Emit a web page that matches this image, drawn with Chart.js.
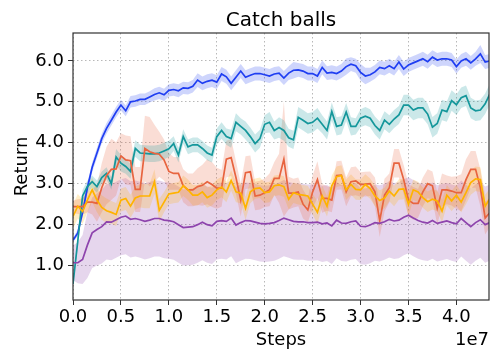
<!DOCTYPE html>
<html>
<head>
<meta charset="utf-8">
<script src="https://cdn.jsdelivr.net/npm/chart.js@4"></script>
<style>
  html, body { margin: 0; padding: 0; background: #fff; }
  #wrap { width: 500px; height: 362px; }
</style>
</head>
<body>
<div id="wrap"><canvas id="chart" width="500" height="362"></canvas></div>
<script>
// ----- DATA -----
const chartTitle = "Catch balls";
const xLabel = "Steps";
const yLabel = "Return";
const xOffsetText = "1e7";

// steps, in units of 1e7
const steps = [
  0.00, 0.05, 0.10, 0.15, 0.20, 0.25, 0.30, 0.35, 0.40, 0.45,
  0.50, 0.55, 0.60, 0.65, 0.70, 0.75, 0.80, 0.85, 0.90, 0.95,
  1.00, 1.05, 1.10, 1.15, 1.20, 1.25, 1.30, 1.35, 1.40, 1.45,
  1.50, 1.55, 1.60, 1.65, 1.70, 1.75, 1.80, 1.85, 1.90, 1.95,
  2.00, 2.05, 2.10, 2.15, 2.20, 2.25, 2.30, 2.35, 2.40, 2.45,
  2.50, 2.55, 2.60, 2.65, 2.70, 2.75, 2.80, 2.85, 2.90, 2.95,
  3.00, 3.05, 3.10, 3.15, 3.20, 3.25, 3.30, 3.35, 3.40, 3.45,
  3.50, 3.55, 3.60, 3.65, 3.70, 3.75, 3.80, 3.85, 3.90, 3.95,
  4.00, 4.05, 4.10, 4.15, 4.20, 4.25, 4.30, 4.35
];

const xTicks = [0.0, 0.5, 1.0, 1.5, 2.0, 2.5, 3.0, 3.5, 4.0];
const yTicks = [1.0, 2.0, 3.0, 4.0, 5.0, 6.0];

// mean return per run
const blueMean = [
  1.62, 1.80, 2.30, 2.90, 3.40, 3.75, 4.10, 4.35, 4.55, 4.75,
  4.92, 4.78, 5.00, 5.02, 5.06, 5.06, 5.12, 5.18, 5.22, 5.17,
  5.28, 5.30, 5.27, 5.34, 5.33, 5.38, 5.53, 5.45, 5.50, 5.53,
  5.48, 5.68, 5.61, 5.45, 5.60, 5.75, 5.60, 5.65, 5.69, 5.69,
  5.66, 5.63, 5.68, 5.70, 5.58, 5.70, 5.77, 5.78, 5.75, 5.69,
  5.69, 5.63, 5.84, 5.70, 5.72, 5.69, 5.75, 5.86, 5.92, 5.88,
  5.72, 5.63, 5.66, 5.73, 5.84, 5.81, 5.88, 5.81, 5.97, 5.80,
  5.90, 5.95, 6.00, 6.05, 5.98, 6.09, 6.02, 6.05, 6.05, 6.02,
  5.86, 6.00, 6.05, 5.95, 6.05, 6.17, 5.97, 6.00
];
const blueStd = [
  0.05, 0.08, 0.10, 0.12, 0.12, 0.12, 0.12, 0.13, 0.13, 0.13,
  0.13, 0.13, 0.14, 0.14, 0.14, 0.14, 0.14, 0.15, 0.15, 0.15,
  0.15, 0.15, 0.16, 0.15, 0.15, 0.15, 0.17, 0.17, 0.17, 0.17,
  0.17, 0.17, 0.17, 0.17, 0.17, 0.17, 0.17, 0.17, 0.17, 0.17,
  0.17, 0.17, 0.17, 0.17, 0.17, 0.17, 0.20, 0.17, 0.17, 0.17,
  0.17, 0.17, 0.17, 0.17, 0.17, 0.17, 0.17, 0.20, 0.17, 0.17,
  0.20, 0.20, 0.17, 0.17, 0.17, 0.17, 0.17, 0.17, 0.17, 0.17,
  0.17, 0.17, 0.17, 0.17, 0.17, 0.17, 0.17, 0.17, 0.17, 0.17,
  0.17, 0.17, 0.17, 0.17, 0.17, 0.22, 0.17, 0.17
];

const tealMean = [
  0.55, 1.60, 2.70, 2.93, 3.05, 2.93, 3.15, 3.25, 3.00, 3.65,
  3.50, 3.42, 3.30, 3.86, 3.75, 3.74, 3.73, 3.73, 3.75, 3.80,
  3.85, 3.98, 3.70, 4.15, 3.90, 3.95, 3.95, 3.86, 3.75, 3.70,
  4.15, 4.30, 4.15, 4.10, 4.50, 4.40, 4.30, 4.15, 3.98, 4.10,
  4.45, 4.50, 4.30, 4.37, 4.30, 4.12, 4.07, 4.62, 4.55, 4.47,
  4.50, 4.60, 4.45, 4.30, 4.76, 4.40, 4.43, 4.75, 4.40, 4.40,
  4.60, 4.65, 4.60, 4.42, 4.30, 4.55, 4.45, 4.58, 4.68, 4.92,
  4.92, 4.80, 4.85, 4.85, 4.70, 4.38, 4.47, 4.80, 4.76, 5.03,
  4.93, 5.10, 5.15, 4.85, 4.78, 4.80, 4.95, 5.20
];
const tealStd = [
  0.05, 0.15, 0.15, 0.15, 0.15, 0.15, 0.15, 0.15, 0.15, 0.20,
  0.20, 0.18, 0.18, 0.20, 0.20, 0.20, 0.20, 0.20, 0.20, 0.20,
  0.20, 0.18, 0.18, 0.18, 0.18, 0.18, 0.18, 0.18, 0.18, 0.18,
  0.20, 0.20, 0.20, 0.22, 0.22, 0.20, 0.22, 0.22, 0.22, 0.22,
  0.22, 0.25, 0.22, 0.25, 0.25, 0.22, 0.22, 0.25, 0.25, 0.25,
  0.25, 0.25, 0.22, 0.22, 0.22, 0.22, 0.22, 0.22, 0.22, 0.20,
  0.22, 0.22, 0.22, 0.22, 0.22, 0.22, 0.22, 0.22, 0.22, 0.25,
  0.25, 0.25, 0.25, 0.25, 0.25, 0.25, 0.25, 0.25, 0.25, 0.25,
  0.25, 0.25, 0.25, 0.25, 0.25, 0.25, 0.25, 0.25
];

const redMean = [
  2.44, 2.44, 2.44, 2.55, 2.55, 2.52, 2.90, 3.20, 3.35, 3.36,
  3.68, 3.58, 3.56, 2.86, 2.86, 3.86, 3.78, 3.74, 3.72, 3.58,
  3.30, 3.25, 3.25, 2.95, 2.85, 2.85, 2.93, 2.96, 3.05, 2.98,
  2.89, 2.89, 3.60, 3.64, 3.15, 2.60, 3.27, 3.29, 2.70, 2.72,
  2.78, 2.85, 3.13, 3.13, 3.60, 2.77, 2.77, 2.80, 2.50, 2.36,
  2.80, 3.10, 2.64, 2.64, 2.60, 3.20, 3.21, 2.80, 3.05, 3.07,
  2.98, 2.99, 3.00, 2.80, 2.10, 2.72, 2.90, 3.50, 3.50, 3.10,
  2.60, 2.52, 2.52, 2.80, 3.00, 2.95, 2.40, 2.85, 2.85, 2.82,
  2.78, 2.78, 3.10, 3.35, 3.35, 2.90, 2.16, 2.30
];
const redStd = [
  0.15, 0.18, 0.20, 0.25, 0.30, 0.45, 0.60, 0.70, 0.75, 0.65,
  0.55, 0.60, 0.60, 0.55, 0.55, 0.80, 0.85, 0.70, 0.55, 0.50,
  0.45, 0.40, 0.40, 0.40, 0.40, 0.40, 0.45, 0.50, 0.55, 0.55,
  0.50, 0.45, 0.45, 0.45, 0.40, 0.40, 0.40, 0.40, 0.35, 0.35,
  0.35, 0.40, 0.40, 0.60, 1.40, 0.40, 0.35, 0.35, 0.35, 0.30,
  0.40, 0.45, 0.35, 0.30, 0.30, 0.35, 0.35, 0.35, 0.35, 0.35,
  0.30, 0.30, 0.30, 0.35, 0.40, 0.40, 0.35, 0.35, 0.35, 0.35,
  0.40, 0.40, 0.35, 0.35, 0.35, 0.35, 0.40, 0.40, 0.35, 0.35,
  0.40, 0.45, 0.50, 0.45, 0.45, 0.45, 0.40, 0.35
];

const yellowMean = [
  2.20, 2.45, 2.32, 2.60, 2.85, 2.60, 2.42, 2.34, 2.30, 2.25,
  2.60, 2.64, 2.45, 2.65, 2.70, 2.70, 2.70, 3.05, 2.35, 2.55,
  2.75, 2.77, 2.79, 2.95, 2.85, 2.72, 2.72, 2.80, 2.66, 2.72,
  2.85, 2.92, 2.80, 3.08, 2.80, 2.77, 2.40, 2.80, 2.88, 2.90,
  2.78, 2.80, 2.95, 2.97, 2.93, 2.62, 2.78, 2.74, 2.72, 2.70,
  2.50, 2.30, 2.70, 2.45, 2.95, 3.17, 3.20, 2.85, 2.98, 2.86,
  2.85, 2.98, 2.88, 2.70, 2.59, 2.65, 2.82, 2.70, 2.86, 2.87,
  2.50, 2.85, 2.80, 2.66, 2.56, 2.62, 2.58, 2.33, 2.72, 2.58,
  2.72, 2.55, 2.78, 3.03, 3.12, 3.10, 2.45, 2.64
];
const yellowStd = [
  0.30, 0.30, 0.30, 0.30, 0.30, 0.30, 0.30, 0.30, 0.28, 0.28,
  0.28, 0.28, 0.28, 0.28, 0.28, 0.30, 0.30, 0.30, 0.28, 0.25,
  0.25, 0.25, 0.25, 0.25, 0.25, 0.25, 0.25, 0.25, 0.25, 0.25,
  0.25, 0.25, 0.25, 0.25, 0.25, 0.25, 0.28, 0.28, 0.25, 0.25,
  0.25, 0.25, 0.25, 0.25, 0.25, 0.25, 0.25, 0.25, 0.25, 0.25,
  0.25, 0.28, 0.25, 0.25, 0.25, 0.25, 0.25, 0.25, 0.25, 0.25,
  0.25, 0.25, 0.25, 0.25, 0.25, 0.25, 0.25, 0.25, 0.25, 0.25,
  0.28, 0.25, 0.25, 0.25, 0.25, 0.25, 0.25, 0.28, 0.25, 0.25,
  0.25, 0.25, 0.28, 0.30, 0.30, 0.30, 0.28, 0.25
];

const purpleMean = [
  1.07, 1.07, 1.15, 1.50, 1.80, 1.88, 1.95, 2.07, 2.06, 2.12,
  2.18, 2.21, 2.13, 2.15, 2.12, 2.08, 2.11, 2.15, 2.15, 2.11,
  2.10, 2.07, 2.00, 1.93, 1.94, 1.95, 2.00, 2.06, 2.00, 1.97,
  2.08, 2.10, 2.08, 2.16, 1.99, 2.05, 2.10, 2.09, 2.06, 2.03,
  2.02, 2.03, 2.05, 2.10, 2.16, 2.12, 2.08, 2.07, 2.07, 2.05,
  2.05, 2.06, 2.02, 2.04, 1.97, 2.11, 2.04, 2.03, 2.07, 2.09,
  1.96, 1.95, 1.99, 2.05, 2.03, 2.07, 2.13, 2.09, 2.11, 2.18,
  2.23, 2.16, 2.10, 2.06, 2.04, 2.10, 2.03, 2.06, 2.09, 2.05,
  2.02, 2.15, 2.05, 1.95, 2.05, 2.12, 2.00, 2.05
];
const purpleStd = [
  0.42, 0.50, 0.60, 0.80, 0.86, 0.88, 0.90, 0.92, 0.93, 0.93,
  0.93, 0.93, 0.93, 0.93, 0.93, 0.93, 0.93, 0.93, 0.93, 0.93,
  0.93, 0.93, 0.93, 0.93, 0.93, 0.93, 0.93, 0.93, 0.93, 0.93,
  0.93, 0.93, 0.93, 0.93, 0.93, 0.93, 0.93, 0.93, 0.93, 0.93,
  0.93, 0.93, 0.93, 0.93, 0.93, 0.93, 0.93, 0.93, 0.93, 0.93,
  0.93, 0.93, 0.93, 0.93, 0.93, 0.93, 0.93, 0.93, 0.93, 0.93,
  0.93, 0.93, 0.93, 0.93, 0.93, 0.93, 0.93, 0.93, 0.93, 0.93,
  0.93, 0.93, 0.93, 0.93, 0.93, 0.93, 0.93, 0.93, 0.93, 0.93,
  0.93, 0.93, 0.93, 0.93, 0.93, 0.93, 0.93, 0.93
];

// ----- SERIES STYLE -----
const series = [
  { mean: blueMean,   std: blueStd,   line: "#1f3ef2", band: "rgba(31,62,242,0.22)" },
  { mean: tealMean,   std: tealStd,   line: "#14979b", band: "rgba(20,151,155,0.22)" },
  { mean: redMean,    std: redStd,    line: "#e8643f", band: "rgba(232,100,63,0.22)" },
  { mean: yellowMean, std: yellowStd, line: "#ffb300", band: "rgba(255,179,0,0.22)" },
  { mean: purpleMean, std: purpleStd, line: "#8e44ad", band: "rgba(142,68,173,0.22)" }
];

// ----- BUILD DATASETS -----
function pts(arr) {
  return arr.map((v, i) => ({ x: steps[i], y: v }));
}

const datasets = [];
series.forEach((s) => {
  const lower = s.mean.map((m, i) => m - s.std[i]);
  const upper = s.mean.map((m, i) => m + s.std[i]);
  datasets.push({
    data: pts(lower), borderWidth: 0, pointRadius: 0, fill: false, order: 20
  });
  datasets.push({
    data: pts(upper), borderWidth: 0, pointRadius: 0,
    fill: "-1", backgroundColor: s.band, order: 20
  });
});
// lines on top of all bands
series.forEach((s, k) => {
  datasets.push({
    data: pts(s.mean), borderColor: s.line, borderWidth: 1.7,
    pointRadius: 0, fill: false, order: 5 - k
  });
});

// frame + texts drawn around the plot area
const framePlugin = {
  id: "frame",
  afterDraw(chart) {
    const { ctx, chartArea: a } = chart;
    ctx.save();
    ctx.strokeStyle = "#333";
    ctx.lineWidth = 1.2;
    ctx.strokeRect(a.left, a.top, a.right - a.left, a.bottom - a.top);

    ctx.fillStyle = "#000";
    ctx.font = "20px 'DejaVu Sans'";
    ctx.textAlign = "center";
    ctx.textBaseline = "alphabetic";
    ctx.fillText(chartTitle, (a.left + a.right) / 2, 26);

    ctx.font = "18px 'DejaVu Sans'";
    ctx.textBaseline = "middle";
    ctx.fillText(xLabel, (a.left + a.right) / 2, 340);
    ctx.textAlign = "right";
    ctx.fillText(xOffsetText, a.right, 340);

    ctx.translate(22, (a.top + a.bottom) / 2);
    ctx.rotate(-Math.PI / 2);
    ctx.textAlign = "center";
    ctx.fillText(yLabel, 0, 0);
    ctx.restore();
  }
};

Chart.defaults.font.family = "'DejaVu Sans'";
Chart.defaults.color = "#000";

new Chart(document.getElementById("chart"), {
  type: "line",
  data: { datasets },
  options: {
    responsive: false,
    animation: false,
    layout: { padding: { left: 0, right: 11, top: 33, bottom: 0 } },
    plugins: {
      legend: { display: false },
      title: { display: false },
      tooltip: { enabled: false }
    },
    scales: {
      x: {
        type: "linear",
        min: 0,
        max: 4.34,
        afterFit: (scale) => { scale.height = 62; },
        afterBuildTicks: (scale) => { scale.ticks = xTicks.map(v => ({ value: v })); },
        ticks: {
          font: { size: 18 },
          padding: 2,
          maxRotation: 0,
          callback: (v) => v.toFixed(1)
        },
        grid: {
          color: "#b8b8b8",
          lineWidth: 1,
          tickLength: 5,
          tickColor: "#333",
          tickWidth: 1,
          tickBorderDash: []
        },
        border: { display: false, dash: [1.5, 2.5] }
      },
      y: {
        type: "linear",
        min: 0.16,
        max: 6.68,
        afterFit: (scale) => { scale.width = 73; },
        afterBuildTicks: (scale) => { scale.ticks = yTicks.map(v => ({ value: v })); },
        ticks: {
          font: { size: 18 },
          padding: 4,
          callback: (v) => v.toFixed(1)
        },
        grid: {
          color: "#b8b8b8",
          lineWidth: 1,
          tickLength: 5,
          tickColor: "#333",
          tickWidth: 1,
          tickBorderDash: []
        },
        border: { display: false, dash: [1.5, 2.5] }
      }
    }
  },
  plugins: [framePlugin]
});
</script>
</body>
</html>
